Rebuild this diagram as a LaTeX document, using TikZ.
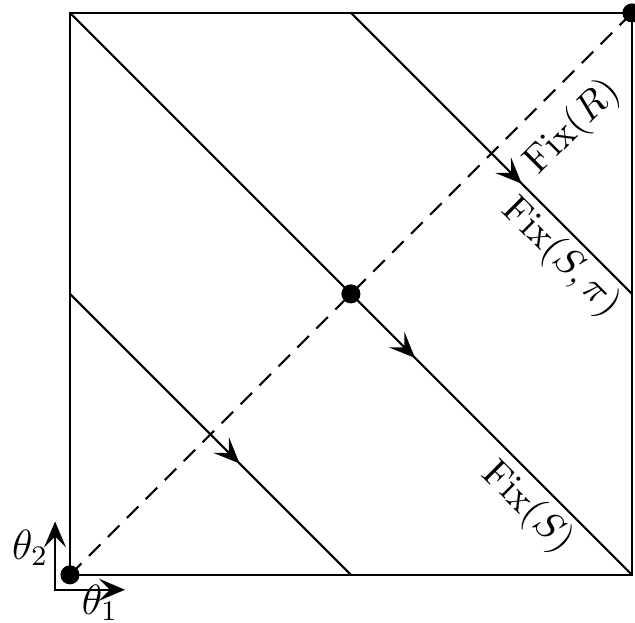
\documentclass[tikz,border=0pt]{standalone}
\usepackage{amsmath,amssymb}
\usetikzlibrary{arrows.meta,decorations.markings}
\tikzset{
  sqline/.style={line width=0.6pt,draw=black},
  flowline/.style={line width=0.6pt,postaction={decorate},
    decoration={markings,mark=at position #1 with {\arrow{Stealth[length=2.6mm,width=2.2mm,inset=1.1mm]}}}},
  fixline/.style={line width=0.6pt,dash pattern=on 4.6pt off 3pt},
  dotpt/.style={circle,fill=black,inner sep=0pt,minimum size=1.9mm},
  axisarrow/.style={{Stealth[length=2.6mm,width=2.2mm,inset=1.1mm]}-{Stealth[length=2.6mm,width=2.2mm,inset=1.1mm]},line width=0.6pt},
  fixlabel/.style={font=\fontsize{10.5}{12}\selectfont,inner sep=1pt}
}
\begin{document}
\begin{tikzpicture}[x=2.8cm,y=2.8cm]
\useasboundingbox (-0.249,-0.171) rectangle (2.011,2.046);
% corners of the torus square
\coordinate (O) at (0,0);
\coordinate (A) at (2,0);
\coordinate (B) at (2,2);
\coordinate (C) at (0,2);
\coordinate (M) at (1,1);
\coordinate (L) at (0,1);
\coordinate (Bm) at (1,0);
\coordinate (Tm) at (1,2);
\coordinate (Rm) at (2,1);
\draw[sqline] (O) -- (A) -- (B) -- (C) -- cycle;
% symmetry lines
\draw[flowline=0.614] (C) -- (A);
\draw[flowline=0.605] (L) -- (Bm);
\draw[flowline=0.609] (Tm) -- (Rm);
\draw[fixline] (O) -- (B);
\node[dotpt] (p0) at (O) {};
\node[dotpt] (p1) at (M) {};
\node[dotpt] (p2) at (B) {};
% labels
\node[fixlabel,rotate=45] (fixR) at (1.79,1.592) {$\mathrm{Fix}(R)$};
\node[fixlabel,rotate=-45] (fixSpi) at (1.748,1.128) {$\mathrm{Fix}(S,\pi)$};
\node[fixlabel,rotate=-45] (fixS) at (1.627,0.238) {$\mathrm{Fix}(S)$};
% axes
\coordinate (ax) at (-0.053,-0.053);
\coordinate (ax1) at (0.196,-0.053);
\coordinate (ax2) at (-0.053,0.19);
\draw[axisarrow] (ax2) -- (ax) -- (ax1);
\node[font=\large] (t2) at (-0.142,0.096) {$\theta_2$};
\node[font=\large] (t1) at (0.107,-0.1) {$\theta_1$};
\end{tikzpicture}
\end{document}
